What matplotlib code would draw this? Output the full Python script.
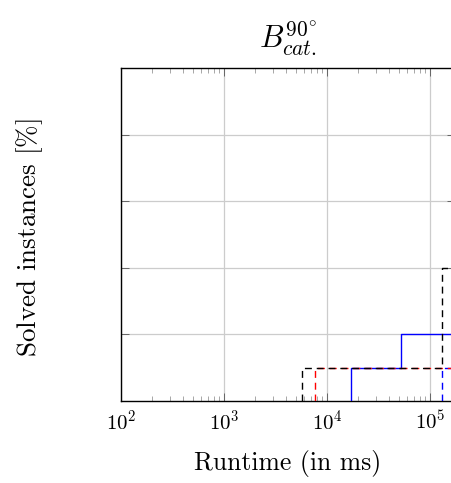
import numpy as np
import matplotlib
matplotlib.use("Agg")
import matplotlib.pyplot as plt
from matplotlib.ticker import LogLocator, NullFormatter, FixedLocator

plt.rcParams["mathtext.fontset"] = "cm"
plt.rcParams["font.family"] = ["cmr10", "DejaVu Serif"]
plt.rcParams["axes.formatter.use_mathtext"] = True

# Solve times (ms) and cumulative share of solved instances (%)
blue_solid_t = [1.70e4, 5.22e4]
blue_solid_p = [10, 20]
red_dashed_t = [7.59e3]
red_dashed_p = [10]
black_dashed_t = [5.68e3, 1.30e5]
black_dashed_p = [10, 40]
blue_dashed_t = [1.32e5]
blue_dashed_p = [10]

x_min, x_max = 1e2, 1.75e5
y_grid = [20, 40, 60, 80]

fig = plt.figure(figsize=(4.52, 4.83), dpi=100)
ax = fig.add_axes([121 / 452, 1 - 401 / 483, 334 / 452, 333 / 483])


def curve(times, pcts):
    xs = [times[0]] + list(times) + [x_max * 1.5]
    ys = [0] + list(pcts) + [pcts[-1]]
    return xs, ys


dash = (0, (5, 3.5))
x, y = curve(blue_dashed_t, blue_dashed_p)
ax.step(x, y, where="post", color="blue", lw=1.0, linestyle=dash, zorder=3)
x, y = curve(blue_solid_t, blue_solid_p)
ax.step(x, y, where="post", color="blue", lw=1.0, zorder=3)
x, y = curve(red_dashed_t, red_dashed_p)
ax.step(x, y, where="post", color="red", lw=1.0, linestyle=dash, zorder=4)
x, y = curve(black_dashed_t, black_dashed_p)
ax.step(x, y, where="post", color="black", lw=1.0, linestyle=dash, zorder=5)

ax.set_xscale("log")
ax.set_xlim(x_min, x_max)
ax.set_ylim(0, 100)

ax.xaxis.set_major_locator(LogLocator(base=10, numticks=10))
ax.xaxis.set_minor_locator(LogLocator(base=10, subs=np.arange(2, 10), numticks=10))
ax.xaxis.set_minor_formatter(NullFormatter())
ax.yaxis.set_major_locator(FixedLocator(y_grid))
ax.set_yticklabels([])

ax.grid(True, which="major", color="#cccccc", lw=0.9)
ax.set_axisbelow(True)

ax.tick_params(axis="x", which="major", direction="in", length=6, width=0.6,
               color="#555555", top=True, labelsize=15, pad=6)
ax.tick_params(axis="x", which="minor", direction="in", length=3.5, width=0.6,
               color="#999999", top=True)
ax.tick_params(axis="y", which="major", direction="in", length=6, width=0.6,
               color="#555555", right=True)

for s in ax.spines.values():
    s.set_linewidth(1.0)
    s.set_color("black")

ax.set_title(r"$B^{90^{\circ}}_{cat.}$", fontsize=22, pad=14)
ax.set_xlabel("Runtime (in ms)", fontsize=18.5, labelpad=12)
ax.set_ylabel(r"Solved instances [$\%$]", fontsize=19.5)
ax.yaxis.set_label_coords(-0.228, 0.49)

fig.savefig("out.png", dpi=100)
